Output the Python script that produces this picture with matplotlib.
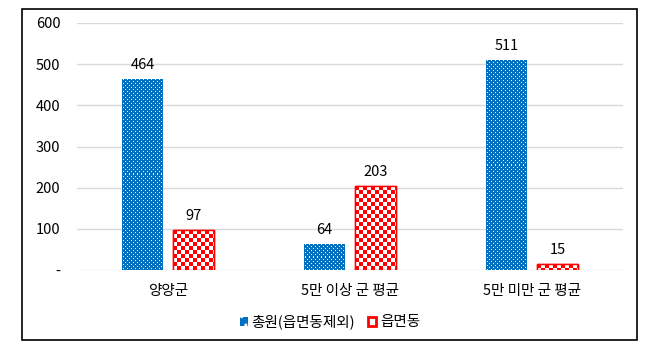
import numpy as np
import matplotlib
matplotlib.use('Agg')
import matplotlib.pyplot as plt
from matplotlib.patches import Rectangle

plt.rcParams['font.family'] = ['Noto Sans CJK KR', 'DejaVu Sans']

categories = ['양양군', '5만 이상 군 평균', '5만 미만 군 평균']
total = [464, 64, 511]      # 총원(읍면동제외)
town = [97, 203, 15]        # 읍면동
series_names = ['총원(읍면동제외)', '읍면동']
yticks = [0, 100, 200, 300, 400, 500, 600]
ytick_labels = ['-', '100', '200', '300', '400', '500', '600']

BLUE = '#0070C0'
RED = '#FF0000'
FS = 10.5


def dot_pattern(h, w):
    img = np.ones((h, w, 3))
    img[:, :] = matplotlib.colors.to_rgb(BLUE)
    yy, xx = np.mgrid[0:h, 0:w]
    mask = ((yy % 4 == 1) & (xx % 4 == 1)) | ((yy % 4 == 3) & (xx % 4 == 3))
    img[mask] = 1.0
    return img


def checker_pattern(h, w, cell=4):
    img = np.ones((h, w, 3))
    yy, xx = np.mgrid[0:h, 0:w]
    mask = ((yy // cell) + (xx // cell)) % 2 == 0
    img[mask] = matplotlib.colors.to_rgb(RED)
    return img


fig = plt.figure(figsize=(6.6, 3.51), dpi=100)
ax = fig.add_axes([77 / 660, 1 - 270 / 351, (623 - 77) / 660, (270 - 23) / 351])

x = np.arange(len(categories))
bw = 0.225
off = 0.14

b1 = ax.bar(x - off, total, bw, color=BLUE, linewidth=0, zorder=2, label=series_names[0])
b2 = ax.bar(x + off, town, bw, facecolor='white', edgecolor=RED, linewidth=1, zorder=2,
            label=series_names[1])

ax.set_xlim(-0.5, 2.5)
ax.set_ylim(0, 600)
ax.set_yticks(yticks)
ax.set_yticklabels(ytick_labels)
ax.set_xticks(x)
ax.set_xticklabels(categories)
ax.tick_params(axis='both', length=0, labelsize=FS, colors='black')
ax.tick_params(axis='y', pad=12)
ax.tick_params(axis='x', pad=10)
ax.grid(axis='y', color='#D9D9D9', linewidth=1, zorder=0)
ax.set_axisbelow(True)
for s in ax.spines.values():
    s.set_visible(False)

fig.canvas.draw()

# fill textures clipped to the bars
for bars, maker in ((b1, dot_pattern), (b2, checker_pattern)):
    for rect in bars:
        bb = rect.get_window_extent()
        h = max(int(round(bb.height)), 1)
        w = max(int(round(bb.width)), 1)
        x0, y0 = rect.get_x(), rect.get_y()
        ext = (x0, x0 + rect.get_width(), y0, y0 + rect.get_height())
        im = ax.imshow(maker(h, w), extent=ext, origin='upper', interpolation='nearest',
                       aspect='auto', zorder=2.5)
        im.set_clip_path(rect)
for rect in b2:
    ax.add_patch(Rectangle((rect.get_x(), rect.get_y()), rect.get_width(), rect.get_height(),
                           fill=False, edgecolor=RED, linewidth=1, zorder=3))

ax.set_xlim(-0.5, 2.5)
ax.set_ylim(0, 600)

for rect, v in list(zip(b1, total)) + list(zip(b2, town)):
    ax.annotate(str(v), (rect.get_x() + rect.get_width() / 2, v), xytext=(0, 5),
                textcoords='offset points', ha='center', va='bottom', fontsize=FS)

leg = ax.legend(loc='center', bbox_to_anchor=(330 / 660, 1 - 322 / 351),
                bbox_transform=fig.transFigure, ncol=2, frameon=False,
                fontsize=FS, handlelength=0.55, handleheight=0.55, handletextpad=0.25,
                columnspacing=0.9)
leg.legend_handles[0].set_hatch('..')
leg.legend_handles[0].set_edgecolor('white')
leg.legend_handles[0].set_linewidth(0)
leg.legend_handles[1].set_facecolor('white')
leg.legend_handles[1].set_edgecolor(RED)
leg.legend_handles[1].set_linewidth(2)

fig.patches.append(Rectangle((22 / 660, 1 - 340 / 351), (637 - 22) / 660, (340 - 9) / 351,
                             transform=fig.transFigure, fill=False, edgecolor='black',
                             linewidth=1.2, zorder=0))

fig.savefig('out.png', dpi=100)
